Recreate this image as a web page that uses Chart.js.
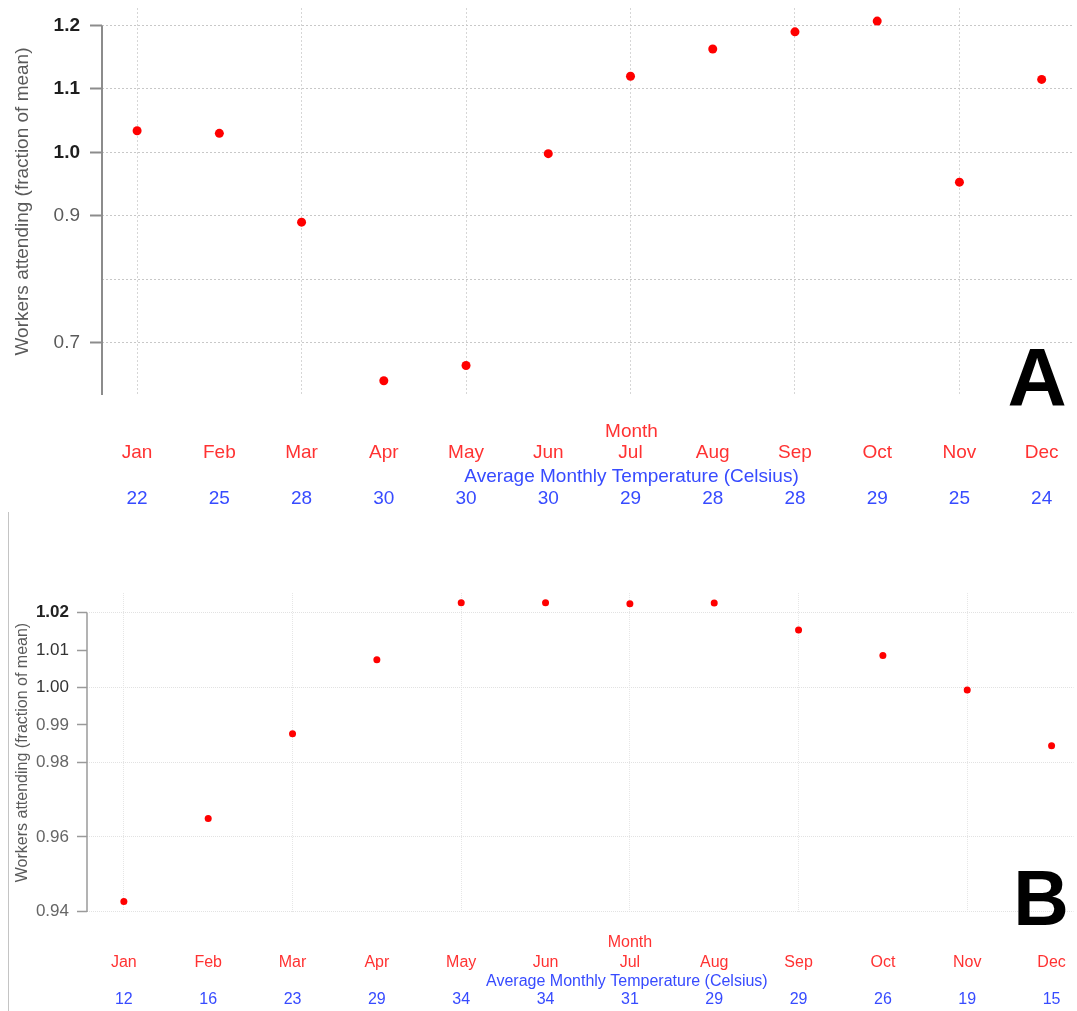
<!DOCTYPE html>
<html>
<head>
<meta charset="utf-8">
<script src="https://cdn.jsdelivr.net/npm/chart.js@4.4.1/dist/chart.umd.min.js"></script>
<style>
html,body{margin:0;padding:0;background:#fff;}
#wrap{position:relative;width:1077px;height:1011px;overflow:hidden;background:#fff;}
#cA{position:absolute;left:0;top:0;}
#cB{position:absolute;left:0;top:510px;}
#edge{position:absolute;left:8px;top:512px;width:0;height:499px;border-left:1px solid #c4c4c4;}
</style>
</head>
<body>
<div id="wrap">
  <canvas id="cA" width="1077" height="510"></canvas>
  <canvas id="cB" width="1077" height="501"></canvas>
  <div id="edge"></div>
</div>
<script>
// ---- data ----
const months = ['Jan','Feb','Mar','Apr','May','Jun','Jul','Aug','Sep','Oct','Nov','Dec'];
const gridMonths = ['Jan','Mar','May','Jul','Sep','Nov'];

const tempsA  = [22, 25, 28, 30, 30, 30, 29, 28, 28, 29, 25, 24];
const attendA = [1.034, 1.030, 0.890, 0.640, 0.664, 0.998, 1.120, 1.163, 1.190, 1.207, 0.953, 1.115];
const yLabelsA = [0.7, 0.9, 1.0, 1.1, 1.2];
const yGridA   = [0.7, 0.8, 0.9, 1.0, 1.1, 1.2];

const tempsB  = [12, 16, 23, 29, 34, 34, 31, 29, 29, 26, 19, 15];
const attendB = [0.9427, 0.9649, 0.9876, 1.0074, 1.0227, 1.0227, 1.0224, 1.0226, 1.0154, 1.0086, 0.9993, 0.9844];
const yLabelsB = [0.94, 0.96, 0.98, 0.99, 1.00, 1.01, 1.02];
const yGridB   = [0.94, 0.96, 0.98, 1.00, 1.02];

const xTitle = 'Month';
const tempTitle = 'Average Monthly Temperature (Celsius)';
const yTitle = 'Workers attending (fraction of mean)';

// ---- styling ----
const FAMILY = "'Liberation Sans', Arial, Helvetica, sans-serif";
const RED_TXT = 'rgb(255,50,50)';
const BLUE_TXT = 'rgb(55,75,255)';
const RED_PT = '#ff0000';
Chart.defaults.font.family = FAMILY;

function makePanel(p) {
  const f = Math.pow(10, p.decimals);
  const key = v => Math.round(v * f);
  const labeled = new Set(p.yLabels.map(key));
  const gridded = new Set(p.yGrid.map(key));

  const decor = {
    id: 'decor' + p.letter,
    afterDraw(chart) {
      const {ctx, chartArea, scales} = chart;
      const x = scales.x, y = scales.y;
      ctx.save();
      const topVal = Math.max.apply(null, p.yLabels);
      ctx.strokeStyle = p.axisColor;
      ctx.lineWidth = p.axisW;
      ctx.beginPath();
      ctx.moveTo(chartArea.left, y.getPixelForValue(topVal));
      ctx.lineTo(chartArea.left, chartArea.bottom);
      ctx.stroke();
      const b = chartArea.bottom;
      const cx = x.getPixelForValue(7);
      ctx.textAlign = 'center';
      ctx.textBaseline = 'middle';
      ctx.font = p.labelFont + 'px ' + FAMILY;
      ctx.fillStyle = RED_TXT;
      ctx.fillText(xTitle, cx + p.dx[0], b + p.rows[0]);
      months.forEach((m, i) => ctx.fillText(m, x.getPixelForValue(i + 1), b + p.rows[1]));
      ctx.fillStyle = BLUE_TXT;
      ctx.fillText(tempTitle, cx + p.dx[1], b + p.rows[2]);
      p.temps.forEach((t, i) => ctx.fillText(String(t), x.getPixelForValue(i + 1), b + p.rows[3]));
      ctx.fillStyle = '#000';
      ctx.textBaseline = 'alphabetic';
      ctx.font = 'bold ' + p.letterSize + 'px ' + FAMILY;
      ctx.fillText(p.letter, p.letterX, p.letterY);
      ctx.restore();
    }
  };

  return new Chart(document.getElementById(p.canvas), {
    type: 'scatter',
    data: {
      datasets: [{
        data: p.values.map((v, i) => ({x: i + 1, y: v})),
        pointRadius: p.pointR,
        pointHoverRadius: p.pointR,
        pointBackgroundColor: RED_PT,
        pointBorderWidth: 0,
        showLine: false
      }]
    },
    options: {
      responsive: false,
      animation: false,
      devicePixelRatio: 1,
      events: [],
      layout: {padding: {top: p.padTop, bottom: p.padBottom, left: 0, right: 0}},
      plugins: {legend: {display: false}, tooltip: {enabled: false}},
      scales: {
        x: {
          type: 'linear', position: 'bottom', min: p.xMin, max: p.xMax,
          ticks: {display: false, stepSize: 1, includeBounds: false, maxTicksLimit: 40},
          grid: {
            drawTicks: false, lineWidth: 1,
            color: c => (c.tick && gridMonths.includes(months[Math.round(c.tick.value) - 1])) ? p.vGridColor : 'rgba(0,0,0,0)'
          },
          border: {display: false, dash: p.dash},
          afterFit: s => { s.height = 0; s.paddingLeft = 0; s.paddingRight = 0; }
        },
        y: {
          type: 'linear', position: 'left', min: p.yMin, max: p.yMax,
          ticks: {
            stepSize: p.yStep, includeBounds: false, maxTicksLimit: 40, autoSkip: false,
            padding: p.tickPad,
            callback: v => labeled.has(key(v)) ? v.toFixed(p.decimals) : '',
            font: c => ({family: FAMILY, size: p.tickFont, weight: p.tickStyle(c.tick ? c.tick.value : 0).weight}),
            color: c => p.tickStyle(c.tick ? c.tick.value : 0).color
          },
          grid: {
            lineWidth: 1,
            color: c => (c.tick && gridded.has(key(c.tick.value))) ? p.hGridColor : 'rgba(0,0,0,0)',
            tickLength: p.tickLen,
            tickWidth: p.axisW,
            tickColor: c => (c.tick && labeled.has(key(c.tick.value))) ? p.axisColor : 'rgba(0,0,0,0)'
          },
          border: {display: false, dash: p.dash},
          title: {
            display: true, text: yTitle, color: '#5a5a5a',
            font: {family: FAMILY, size: p.titleFont},
            padding: {top: p.titlePad, bottom: 0}
          },
          afterFit: s => { s.width = p.axisLeft; s.paddingTop = 0; s.paddingBottom = 0; }
        }
      }
    },
    plugins: [decor]
  });
}

makePanel({
  canvas: 'cA', letter: 'A', letterX: 1037, letterY: 405, letterSize: 82,
  values: attendA, temps: tempsA, yLabels: yLabelsA, yGrid: yGridA,
  decimals: 1, yStep: 0.1, yMin: 0.6175, yMax: 1.2276, xMin: 0.573, xMax: 12.375,
  padTop: 8, padBottom: 115, axisLeft: 102, tickLen: 12, tickPad: 10,
  tickFont: 19, titleFont: 19, titlePad: 11,
  axisColor: '#8c8c8c', axisW: 2, hGridColor: '#c8c8c8', vGridColor: '#d6d6d6', dash: [2, 2],
  pointR: 4.5, labelFont: 19, rows: [37, 58, 82, 104], dx: [1, 1],
  tickStyle: v => v >= 0.95 ? {weight: 'bold', color: '#1e1e1e'} : {weight: 'normal', color: '#5a5a5a'}
});

makePanel({
  canvas: 'cB', letter: 'B', letterX: 1041, letterY: 415, letterSize: 77,
  values: attendB, temps: tempsB, yLabels: yLabelsB, yGrid: yGridB,
  decimals: 2, yStep: 0.01, yMin: 0.9399, yMax: 1.0253, xMin: 0.563, xMax: 12.26,
  padTop: 83, padBottom: 99, axisLeft: 87, tickLen: 10, tickPad: 8,
  tickFont: 17, titleFont: 16, titlePad: 13,
  axisColor: '#9a9a9a', axisW: 1.5, hGridColor: '#e2e2e2', vGridColor: '#e6e6e6', dash: [1, 1],
  pointR: 3.5, labelFont: 16, rows: [31, 51, 70, 88], dx: [0, -3],
  tickStyle: v => v >= 1.015 ? {weight: 'bold', color: '#222'} : (v >= 0.995 ? {weight: 'normal', color: '#333'} : {weight: 'normal', color: '#666'})
});
</script>
</body>
</html>
